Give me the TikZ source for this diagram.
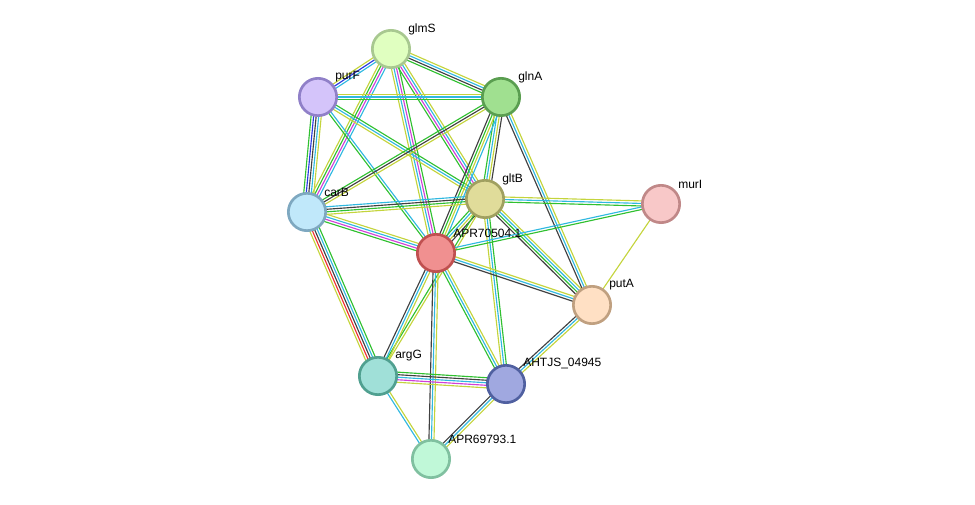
\documentclass[tikz,border=0pt]{standalone}
\usepackage{fontspec}
\setmainfont{Liberation Sans}
\usetikzlibrary{calc}
\pgfdeclarelayer{bg}\pgfsetlayers{bg,main}
\definecolor{Y}{HTML}{C4D43C}
\definecolor{K}{HTML}{404040}
\definecolor{C}{HTML}{30B8E0}
\definecolor{M}{HTML}{D040D8}
\definecolor{G}{HTML}{30C030}
\definecolor{B}{HTML}{2838E0}
\definecolor{R}{HTML}{F03030}
\definecolor{f1}{HTML}{E0FFC0}\definecolor{b1}{HTML}{A8C890}
\definecolor{f2}{HTML}{D4C4FA}\definecolor{b2}{HTML}{9080C8}
\definecolor{f3}{HTML}{A0E090}\definecolor{b3}{HTML}{5A9E50}
\definecolor{f4}{HTML}{C0E8FA}\definecolor{b4}{HTML}{7EA8C0}
\definecolor{f5}{HTML}{E0DC9A}\definecolor{b5}{HTML}{A0A060}
\definecolor{f6}{HTML}{F8C8C8}\definecolor{b6}{HTML}{C08888}
\definecolor{f7}{HTML}{F09090}\definecolor{b7}{HTML}{C05050}
\definecolor{f8}{HTML}{FFE0C4}\definecolor{b8}{HTML}{C0A080}
\definecolor{f9}{HTML}{A0E0D8}\definecolor{b9}{HTML}{50A090}
\definecolor{fa}{HTML}{A0A8E0}\definecolor{ba}{HTML}{5060A0}
\definecolor{fb}{HTML}{C0F8D8}\definecolor{bb}{HTML}{80C0A0}
\newcommand\edge[3]{%
 \xdef\nn{0}\foreach \c in {#3}{\xdef\nn{\the\numexpr\nn+1\relax}}%
 \foreach \c [count=\i] in {#3}{\pgfmathsetmacro\off{(\i-(\nn+1)/2)*1.9}%
   \draw[\c, line width=0.85pt] ($(#1)!\off pt!90:(#2)$) -- ($(#2)!\off pt!-90:(#1)$);}}
\tikzset{prot/.style={circle,minimum size=28pt,inner sep=0pt,line width=2pt},
 lab/.style={anchor=west,font=\fontsize{9}{10}\selectfont,inner sep=0pt}}
\newcommand\prt[6]{\node[prot,draw=b#4,fill=f#4] (#1) at (#2,#3) {}; \node[lab] (#1-l) at (#2+17,#3-20) {#5};}
\begin{document}
\begin{tikzpicture}[x=0.75pt,y=-0.75pt]
\useasboundingbox (0,0) rectangle (975,505);
\prt{glmS}{391}{49}{1}{glmS}{}
\prt{purF}{318}{97}{2}{purF}{}
\prt{glnA}{501}{97}{3}{glnA}{}
\prt{carB}{307}{212}{4}{carB}{}
\prt{gltB}{485}{199}{5}{gltB}{}
\prt{murI}{661}{204}{6}{murI}{}
\prt{apr}{436}{253}{7}{APR70504.1}{}
\prt{putA}{592}{305}{8}{putA}{}
\prt{argG}{378}{376}{9}{argG}{}
\prt{ahtjs}{506}{384}{a}{AHTJS\_04945}{}
\prt{apr2}{431}{459}{b}{APR69793.1}{}
\begin{pgfonlayer}{bg}
\edge{glmS}{purF}{Y,B,C}
\edge{glmS}{glnA}{G,K,C,Y}
\edge{glmS}{carB}{Y,G,M,C}
\edge{glmS}{gltB}{G,M,C,Y}
\edge{glmS}{apr}{Y,C,M,G}
\edge{purF}{glnA}{G,C,Y}
\edge{purF}{carB}{G,B,K,C,Y}
\edge{purF}{gltB}{Y,C,G}
\edge{purF}{apr}{G,C}
\edge{glnA}{carB}{G,K,Y}
\edge{glnA}{gltB}{G,C,Y,K}
\edge{glnA}{apr}{K,G,Y,C}
\edge{glnA}{putA}{K,C,Y}
\edge{carB}{gltB}{Y,G,K,C}
\edge{carB}{apr}{G,M,C,Y}
\edge{carB}{argG}{Y,R,K,C,G}
\edge{gltB}{murI}{G,C,Y}
\edge{gltB}{apr}{G,C,Y,K}
\edge{gltB}{putA}{K,G,C,Y}
\edge{gltB}{ahtjs}{Y,C,G}
\edge{gltB}{argG}{G,Y}
\edge{apr}{murI}{G,C}
\edge{apr}{putA}{K,C,Y}
\edge{apr}{argG}{K,C,Y}
\edge{apr}{ahtjs}{G,C,Y}
\edge{apr}{apr2}{K,C,Y}
\edge{murI}{putA}{Y}
\edge{putA}{ahtjs}{K,C,Y}
\edge{argG}{ahtjs}{Y,M,C,K,G}
\edge{argG}{apr2}{C,Y}
\edge{ahtjs}{apr2}{K,C,Y}
\end{pgfonlayer}
\end{tikzpicture}
\end{document}
